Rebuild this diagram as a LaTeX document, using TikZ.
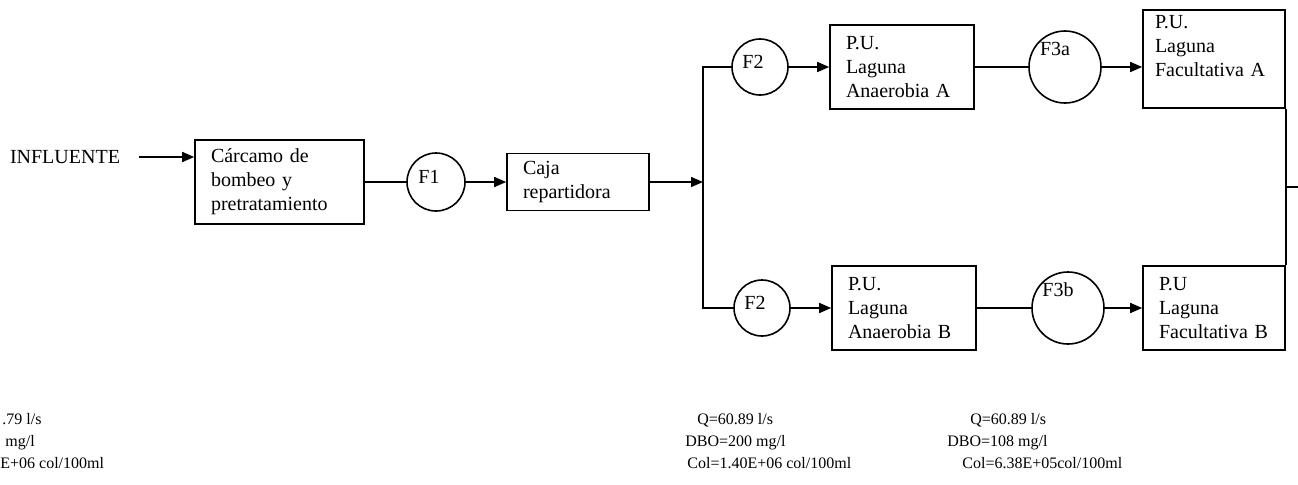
\documentclass[tikz,border=0pt]{standalone}
\usepackage{fontspec}
\setmainfont{Liberation Serif}
\usetikzlibrary{positioning,arrows.meta,calc}
\tikzset{
  pipe/.style={line width=0.8pt},
  flow/.style={pipe, -{Triangle[length=6pt,width=5pt]}},
  pbox/.style={draw, line width=0.8pt, align=left, inner xsep=8pt, inner ysep=0pt,
               font=\fontsize{10}{12}\selectfont},
  fnode/.style={circle, draw, line width=0.8pt, inner sep=0pt, minimum size=28pt},
  flabel/.style={font=\fontsize{10}{12}\selectfont, xshift=-3.5pt, yshift=2.5pt},
  f3label/.style={font=\fontsize{10}{12}\selectfont, xshift=-5pt, yshift=9pt},
  dlabel/.style={font=\fontsize{8}{11}\selectfont, align=left, anchor=north west, inner sep=0pt},
}

\begin{document}
\begin{tikzpicture}[x=0.5pt,y=-0.5pt]
  \useasboundingbox (0,0) rectangle (1298,484);
  % entrada y pretratamiento
  \node[font=\fontsize{10}{12}\selectfont] (influente) at (65,157) {INFLUENTE};
  \node[pbox, text width=68.5pt, minimum height=42pt] (carcamo) at (279.5,182)
    {Cárcamo de\\bombeo y\\pretratamiento};
  \node[fnode, minimum size=29pt, label={[flabel]center:F1}] (f1) at (436,182) {};
  \node[pbox, text width=55pt, minimum height=28.5pt] (caja) at (578,182)
    {Caja\\repartidora};
  \coordinate (split) at (703,182);
  % tren A
  \node[fnode, label={[flabel]center:F2}] (f2a) at (760,67) {};
  \node[pbox, text width=56pt, minimum height=42pt] (anA) at (902,67)
    {P.U.\\Laguna\\Anaerobia A};
  \node[fnode, minimum size=36pt, label={[f3label]center:F3a}] (f3a) at (1065,67) {};
  \node[pbox, inner xsep=6pt, text width=59pt, minimum height=49pt] (facA) at (1214,59)
    {P.U.\\Laguna\\Facultativa A\\[1pt]\mbox{}};
  % tren B
  \node[fnode, label={[flabel]center:F2}] (f2b) at (762,308) {};
  \node[pbox, text width=56pt, minimum height=42pt] (anB) at (904,308)
    {P.U.\\Laguna\\Anaerobia B};
  \node[fnode, minimum size=36pt, label={[f3label]center:F3b}] (f3b) at (1068,308) {};
  \node[pbox, text width=55pt, minimum height=42pt] (facB) at (1214,308)
    {P.U\\Laguna\\Facultativa B};
  \coordinate (salida) at (1298,187);

  % conexiones
  \draw[flow, shorten <=6pt] (influente) -- (influente -| carcamo.west);
  \draw[pipe] (carcamo) -- (f1);
  \draw[flow] (f1) -- (caja);
  \draw[flow] (caja) -- (split);
  \draw[pipe] (f2a) -| (split) |- (f2b);
  \draw[flow] (f2a) -- (anA);
  \draw[flow] (f2b) -- (anB);
  \draw[pipe] (anA) -- (f3a);
  \draw[pipe] (anB) -- (f3b);
  \draw[flow] (f3a) -- (f3a -| facA.west);
  \draw[flow] (f3b) -- (facB);
  \draw[pipe] (facA.south east) -- (facB.north east);
  \draw[pipe] (salida -| facA.east) -- (salida);

  % datos de calidad
  \node[dlabel] (datin) at (0,413)
    {\hspace*{1pt}.79 l/s\\\hspace*{2.5pt}mg/l\\E+06 col/100ml};
  \node[dlabel] (datan) at (685,413)
    {\hspace*{6pt}Q=60.89 l/s\\DBO=200 mg/l\\\hspace*{1pt}Col=1.40E+06 col/100ml};
  \node[dlabel] (datfa) at (947,413)
    {\hspace*{11.5pt}Q=60.89 l/s\\DBO=108 mg/l\\\hspace*{7.5pt}Col=6.38E+05col/100ml};
\end{tikzpicture}
\end{document}
